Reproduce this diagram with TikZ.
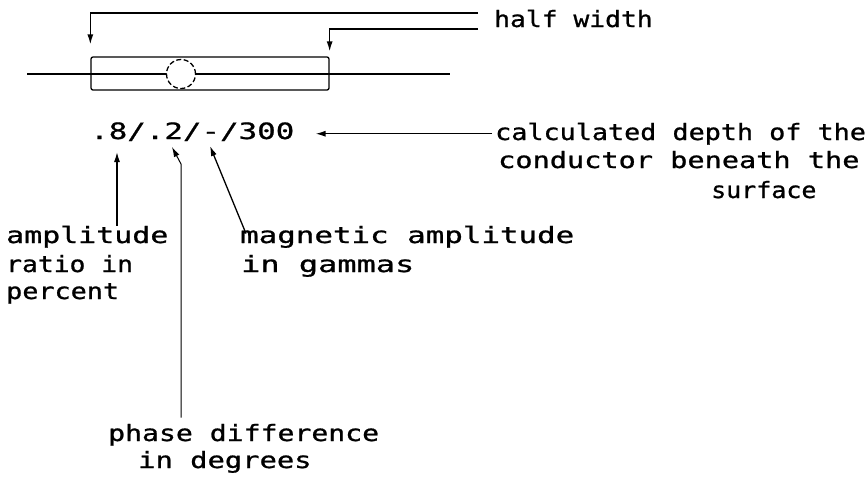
\documentclass[tikz,border=0pt]{standalone}
\usepackage{fontspec}
\usepackage{graphicx}
\newfontfamily\lett[FakeBold=0.8]{DejaVu Sans Mono}
\usetikzlibrary{arrows.meta,calc}
\begin{document}
\begin{tikzpicture}[x=1pt,y=-1pt,
  lt/.style={font=\lett\fontsize{22.5}{27}\selectfont, inner sep=0pt, anchor=base west},
  ln/.style={line width=1.3pt},
  arr/.style={line width=1.3pt, -{Latex[length=10pt,width=6pt]}},
  thinarr/.style={line width=1pt, -{Latex[length=10pt,width=6pt]}}]
\useasboundingbox (0,0) rectangle (865,488);
% labels
\node[lt] (hw) at (494,27) {\scalebox{1.17}[1]{half width}};
\node[lt] (code) at (90,139) {\scalebox{1.37}[1]{.8/.2/-/300}};
\node[lt] (calc1) at (495,140) {\scalebox{1.19}[1]{calculated depth of the}};
\node[lt] (calc2) at (498,168) {\scalebox{1.27}[1]{conductor beneath the}};
\node[lt] (calc3) at (711,198) {\scalebox{1.11}[1]{surface}};
\node[lt] (amp1) at (6,243) {\scalebox{1.33}[1]{amplitude}};
\node[lt] (amp2) at (6,272) {\scalebox{1.17}[1]{ratio in}};
\node[lt] (amp3) at (6,299) {\scalebox{1.19}[1]{percent}};
\node[lt] (mag1) at (240,243) {\scalebox{1.37}[1]{magnetic amplitude}};
\node[lt] (mag2) at (241,272) {\scalebox{1.42}[1]{in gammas}};
\node[lt] (ph1) at (108,441) {\scalebox{1.25}[1]{phase difference}};
\node[lt] (ph2) at (138,468) {\scalebox{1.28}[1]{in degrees}};
% conductor sketch
\coordinate (lineL) at (27,74);
\coordinate (lineR) at (450,74);
\draw[ln] (lineL) -- (lineR);
\node[draw, ln, rounded corners=2pt, minimum width=238pt, minimum height=33pt, inner sep=0pt] (body) at (210,73.5) {};
\node[circle, draw, ln, dash pattern=on 5pt off 2.5pt, fill=white, minimum size=29pt, inner sep=0pt] (cond) at (181,74) {};
% half width bracket
\coordinate (hwA) at (478,13);
\coordinate (hwB) at (478,29);
\draw[arr] (hwA) -| ([yshift=12pt]body.north west);
\draw[arr] (hwB) -| ([yshift=5pt]body.north east);
% depth arrow
\draw[arr] ([xshift=-3pt]calc1.west) -- ($(code.east |- calc1.west)+(21,0)$);
% amplitude ratio arrow
\coordinate (t8) at (117,152);
\draw[arr] (t8 |- amp1.north) -- (t8);
% phase arrow
\coordinate (t2) at (172,147);
\coordinate (k2) at (181,164);
\draw[thinarr] ($(k2 |- ph1.north)+(0,-6)$) -- (k2) -- (t2);
% magnetic amplitude arrow
\coordinate (tm) at (210,146);
\draw[arr] ($(mag1.north west)+(6,8)$) -- (tm);
\end{tikzpicture}
\end{document}
